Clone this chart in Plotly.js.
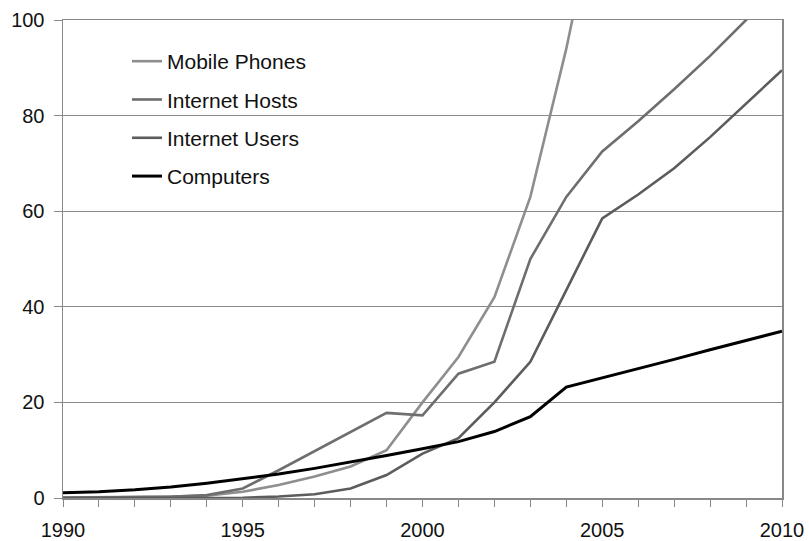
<!DOCTYPE html>
<html>
<head>
<meta charset="utf-8">
<script src="https://cdn.plot.ly/plotly-3.0.1.min.js"></script>
<style>html,body{margin:0;padding:0;background:#fff;}#chart{width:809px;height:541px;}</style>
</head>
<body>
<div id="chart"></div>
<script>
var years = [1990,1991,1992,1993,1994,1995,1996,1997,1998,1999,2000,2001,2002,2003,2004,2005,2006,2007,2008,2009,2010];
var mobileYears = [1990,1991,1992,1993,1994,1995,1996,1997,1998,1999,2000,2001,2002,2003,2004,2005];
var mobilePhones = [0.1,0.15,0.2,0.3,0.5,1.3,2.7,4.5,6.6,10,20,29.5,42,63,94,130];
var internetHosts = [0.05,0.1,0.15,0.25,0.6,2.0,5.8,9.8,13.8,17.8,17.3,26,28.5,50,63,72.5,78.8,85.5,92.5,100,108];
var internetUsers = [0,0,0,0,0,0.05,0.3,0.8,2.0,4.8,9.3,12.5,20,28.5,43.5,58.5,63.5,69,75.5,82.5,89.5];
var computers = [1.1,1.3,1.7,2.3,3.1,4.0,5.0,6.2,7.5,8.9,10.3,11.8,13.9,17.0,23.2,25.1,27.0,29.0,31.0,32.9,34.9];
var seriesNames = ["Mobile Phones","Internet Hosts","Internet Users","Computers"];
var xTickVals = [1990,1995,2000,2005,2010];
var yTickVals = [0,20,40,60,80,100];

var font = "Liberation Sans, Arial, sans-serif";
function tr(x, y, name, color, width, grp) {
  return {x:x, y:y, name:name, type:'scatter', mode:'lines',
    line:{color:color, width:width}, legendgroup:grp, hoverinfo:'skip'};
}
var data = [
  tr(mobileYears, mobilePhones, seriesNames[0], '#8e8e8e', 2.6, 'a'),
  tr(years, internetHosts, seriesNames[1], '#6e6e6e', 2.6, 'b'),
  tr(years, internetUsers, seriesNames[2], '#5c5c5c', 2.6, 'c'),
  tr(years, computers, seriesNames[3], '#000000', 3, 'd')
];
var layout = {
  width:809, height:541,
  margin:{l:63, r:27, t:20, b:43, pad:0},
  paper_bgcolor:'#fff', plot_bgcolor:'#fff',
  font:{family:font, size:20, color:'#111'},
  showlegend:true,
  legend:{x:0.089, y:0.956, xanchor:'left', yanchor:'top', bgcolor:'rgba(0,0,0,0)',
    font:{family:font, size:21, color:'#111'}, traceorder:'grouped', tracegroupgap:8,
    itemwidth:30, borderwidth:0},
  shapes:[
    {type:'rect', layer:'below', xref:'x', yref:'y', x0:1990, x1:1998.48, y0:62, y1:97,
     fillcolor:'#fff', line:{width:0}}
  ],
  xaxis:{range:[1990,2010], tickmode:'array', tickvals:xTickVals, ticktext:xTickVals.map(String),
    ticks:'outside', ticklen:7, tickcolor:'#888', tickwidth:1,
    minor:{dtick:1, tick0:1990, ticks:'outside', ticklen:7, tickcolor:'#888', showgrid:false},
    showline:true, linecolor:'#888', linewidth:1.5, mirror:true, showgrid:false, zeroline:false,
    ticklabelstandoff:6, tickfont:{family:font, size:20, color:'#111'}},
  yaxis:{range:[0,100], tickmode:'array', tickvals:yTickVals, ticktext:yTickVals.map(String),
    ticks:'outside', ticklen:8, tickcolor:'#888', tickwidth:1,
    showline:true, linecolor:'#888', linewidth:1.5, mirror:true,
    showgrid:true, gridcolor:'#8a8a8a', gridwidth:1.2, zeroline:false,
    ticklabelstandoff:5, tickfont:{family:font, size:20, color:'#111'}}
};
Plotly.newPlot('chart', data, layout, {staticPlot:true, displayModeBar:false});
</script>
</body>
</html>
